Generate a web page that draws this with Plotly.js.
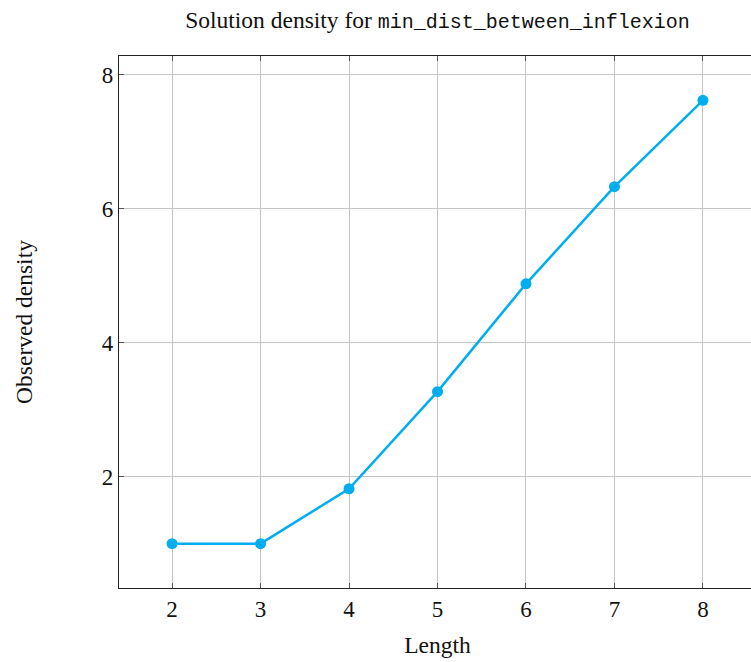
<!DOCTYPE html>
<html>
<head>
<meta charset="utf-8">
<script src="https://cdn.plot.ly/plotly-3.0.1.min.js"></script>
<style>
html, body { margin: 0; padding: 0; overflow: hidden; background: #fff; }
#chart { width: 760px; height: 662px; }
</style>
</head>
<body>
<div id="chart"></div>
<script>
const lengths = [2, 3, 4, 5, 6, 7, 8];
const density = [1.0, 1.0, 1.82, 3.27, 4.88, 6.33, 7.62];
const xTicks = [2, 3, 4, 5, 6, 7, 8];
const yTicks = [2, 4, 6, 8];

const serif = "Liberation Serif, Times New Roman, serif";
const mono = "Liberation Mono, DejaVu Sans Mono, monospace";

const trace = {
  x: lengths,
  y: density,
  type: 'scatter',
  mode: 'lines+markers',
  line: { color: '#00aeef', width: 2.5 },
  marker: { color: '#00aeef', size: 11 },
  hoverinfo: 'skip',
  cliponaxis: false
};

const axisCommon = {
  showline: true,
  linecolor: '#222',
  linewidth: 1.2,
  mirror: 'ticks',
  ticks: 'inside',
  ticklen: 5,
  tickcolor: '#555',
  tickwidth: 1,
  showgrid: true,
  gridcolor: '#c4c4c4',
  gridwidth: 1,
  zeroline: false,
  tickfont: { family: serif, size: 23, color: '#111' }
};

const layout = {
  width: 760,
  height: 662,
  margin: { l: 119, r: 4, t: 56, b: 74 },
  paper_bgcolor: '#fff',
  plot_bgcolor: '#fff',
  showlegend: false,
  title: {
    text: 'Solution density for <span style="font-family:' + mono + ';font-size:20px">min_dist_between_inflexion</span>',
    font: { family: serif, size: 23.5, color: '#111' },
    x: 437.5 / 760,
    xanchor: 'center',
    y: 1 - 20 / 662,
    yanchor: 'middle'
  },
  xaxis: Object.assign({}, axisCommon, {
    range: [1.4, 8.6],
    tickvals: xTicks,
    ticktext: xTicks.map(String),
    title: { text: 'Length', font: { family: serif, size: 23.5, color: '#111' }, standoff: 15 }
  }),
  yaxis: Object.assign({}, axisCommon, {
    range: [0.338, 8.282],
    tickvals: yTicks,
    ticktext: yTicks.map(String),
    title: { text: 'Observed density', font: { family: serif, size: 23.5, color: '#111' }, standoff: 62 }
  })
};

Plotly.newPlot('chart', [trace], layout, { displayModeBar: false, staticPlot: true });
</script>
</body>
</html>
